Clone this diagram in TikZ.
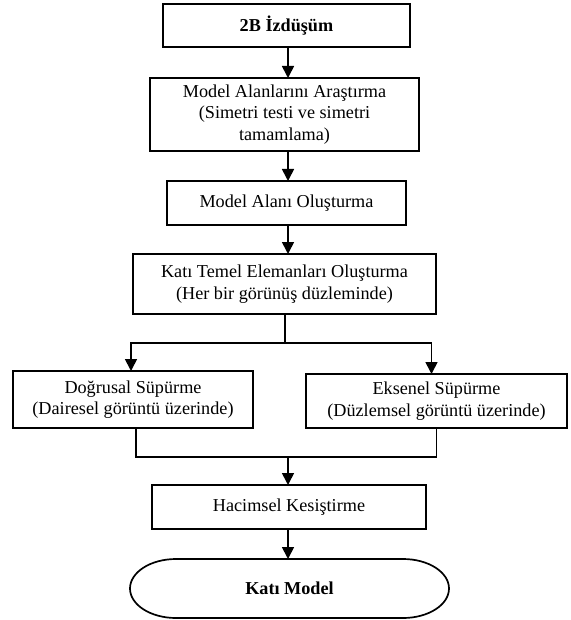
\documentclass[tikz,border=0pt]{standalone}
\usepackage{fontspec}
\setmainfont{Liberation Serif}
\usetikzlibrary{arrows.meta}
\tikzset{
  box/.style={draw, line width=1.7pt, inner sep=0pt, outer sep=0pt, align=center,
    font=\fontsize{18.2}{21.5}\selectfont},
  topbox/.style={box, line width=2.4pt, font=\fontsize{18.2}{21.5}\selectfont\bfseries},
  termtext/.style={inner sep=0pt, outer sep=0pt, align=center, font=\fontsize{18.2}{21.5}\selectfont\bfseries},
  conn/.style={line width=1.7pt},
  arr/.style={conn, -{Triangle[length=12pt,width=12pt]}}
}
\begin{document}
\begin{tikzpicture}[x=1pt,y=-1pt]
\useasboundingbox (0,0) rectangle (570,620);
\node[topbox, minimum width=247pt, minimum height=43pt] (n1) at (286.5,25.5) {2B İzdüşüm};
\node[box, minimum width=269pt, minimum height=73pt] (n2) at (284.5,114.5)
  {Model Alanlarını Araştırma\\(Simetri testi ve simetri\\tamamlama)};
\node[box, minimum width=239pt, minimum height=44pt] (n3) at (286.5,203) {Model Alanı Oluşturma};
\node[box, minimum width=303pt, minimum height=60pt] (n4) at (284.5,284)
  {Katı Temel Elemanları Oluşturma\\(Her bir görünüş düzleminde)};
\node[box, minimum width=240pt, minimum height=57pt] (L) at (133,399.5)
  {Doğrusal Süpürme\\(Dairesel görüntü üzerinde)};
\node[box, minimum width=261pt, minimum height=54pt] (R) at (436.5,401)
  {Eksenel Süpürme\\(Düzlemsel görüntü üzerinde)};
\node[box, minimum width=274pt, minimum height=44pt] (n5) at (289,507) {Hacimsel Kesiştirme};
\node[termtext, minimum width=319pt, minimum height=59pt] (n6) at (289.5,588.5) {Katı Model};
\draw[conn] ([xshift=46pt]n6.north west) -- ([xshift=-46pt]n6.north east)
  arc[start angle=90, end angle=-90, x radius=46pt, y radius=29.5pt]
  -- ([xshift=46pt]n6.south west)
  arc[start angle=270, end angle=90, x radius=46pt, y radius=29.5pt] -- cycle;
% connectors
\coordinate (ax) at (288,0);
\draw[arr] (n1.south -| ax) -- (n2.north -| ax);
\draw[arr] (n2.south -| ax) -- (n3.north -| ax);
\draw[arr] (n3.south -| ax) -- (n4.north -| ax);
\coordinate (split) at (285,343);
\draw[conn] (n4.south -| split) -- (split);
\draw[arr] (split) -| ([xshift=-2pt]L.north);
\draw[arr] (split) -| ([xshift=-5pt]R.north);
\coordinate (merge) at (288,457);
\draw[conn] ([xshift=3pt]L.south) |- (merge) -| (R.south);
\draw[arr] (merge) -- (merge |- n5.north);
\draw[arr] (n5.south -| ax) -- (n6.north -| ax);
\end{tikzpicture}
\end{document}
